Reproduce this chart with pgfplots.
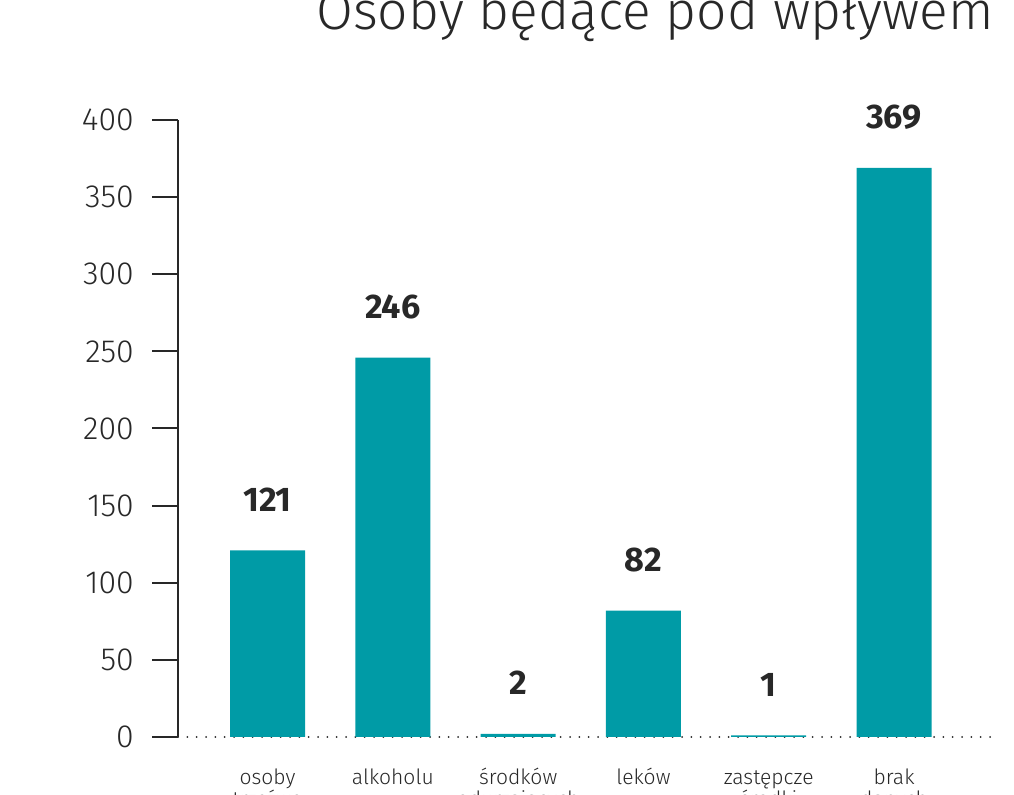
\documentclass[border=0pt]{standalone}
\usepackage{fontspec}
\setmainfont{Fira Sans}
\newfontfamily\firalight{Fira Sans Light}
\usepackage{pgfplots}
\pgfplotsset{compat=1.18}
\definecolor{barc}{RGB}{0,155,166}
\definecolor{txt}{RGB}{40,40,40}
\begin{document}
\begin{tikzpicture}[x=0.75pt,y=0.75pt]
\begin{scope}
\clip (0,0) rectangle (1014,795);
\node[anchor=base, font=\firalight\fontsize{40}{46}\selectfont, text=txt] at (655,765) {Osoby będące pod wpływem};
\begin{axis}[
  at={(200.625pt,43.5pt)}, anchor=origin,
  scale only axis, width=614.25pt, height=462.75pt,
  xmin=-0.714, xmax=5.822, ymin=0, ymax=400,
  ybar, bar width=56.25pt, bar shift=0pt,
  axis y line*=left, axis x line*=bottom,
  y axis line style={line width=1.5pt, draw=txt},
  x axis line style={line width=1.5pt, draw=txt, dash pattern=on 0pt off 7pt, line cap=round},
  ytick={0,50,...,400},
  tick align=outside, major tick length=19.5pt,
  ytick style={line width=1.5pt, draw=txt},
  xtick={0,...,5}, xtick style={draw=none},
  xticklabels={osoby\\trzeźwe, alkoholu\\\phantom{x}, środków\\odurzających, leków\\\phantom{x}, zastępcze\\środki, brak\\danych},
  xticklabel style={anchor=base, align=center, yshift=-32.25pt, inner sep=0pt, font=\firalight\fontsize{15.8}{16}\selectfont, text=txt},
  yticklabel style={anchor=east, inner sep=0pt, xshift=-13.5pt, font=\firalight\fontsize{24}{28}\selectfont, text=txt},
  /pgf/number format/assume math mode=true,
  nodes near coords,
  every node near coord/.append style={anchor=base, yshift=29.25pt, font=\bfseries\fontsize{25.6}{30}\selectfont, text=txt},
  clip=false,
]
\addplot[fill=barc, draw=none] coordinates {(0,121) (1,246) (2,2) (3,82) (4,1) (5,369)};
\end{axis}
\end{scope}
\pgfresetboundingbox
\useasboundingbox (0,0) rectangle (1014,795);
\end{tikzpicture}
\end{document}
